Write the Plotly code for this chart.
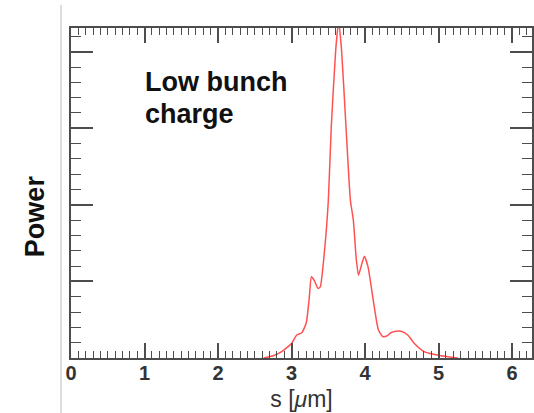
import plotly.graph_objects as go

# Data
s_um = [2.62, 2.75, 2.86, 3.0, 3.07, 3.14, 3.2, 3.24, 3.27, 3.31, 3.36, 3.39,
        3.45, 3.5, 3.54, 3.6, 3.64, 3.68, 3.74, 3.8, 3.84, 3.88, 3.91, 3.95,
        3.99, 4.04, 4.11, 4.18, 4.24, 4.3, 4.35, 4.42, 4.49, 4.58, 4.67, 4.81,
        5.03, 5.26]
power = [0.0, 0.03, 0.08, 0.19, 0.30, 0.33, 0.46, 0.78, 1.06, 1.01, 0.91, 0.93,
         1.42, 2.06, 3.02, 4.02, 4.40, 4.02, 3.02, 2.06, 1.80, 1.29, 1.08, 1.21,
         1.33, 1.19, 0.76, 0.37, 0.28, 0.29, 0.33, 0.35, 0.35, 0.30, 0.19, 0.08,
         0.03, 0.0]
x_ticks = [0, 1, 2, 3, 4, 5, 6]
label_lines = ["Low bunch", "charge"]

AX = "#4d4d4d"
FONT = "Liberation Sans, Arial, sans-serif"

fig = go.Figure()
fig.add_trace(go.Scatter(
    x=s_um, y=power, mode="lines",
    line=dict(color="rgba(255,50,50,0.85)", width=1.5, shape="spline", smoothing=0.5),
    hoverinfo="skip", showlegend=False,
))

fig.update_layout(
    width=534, height=413,
    margin=dict(l=71, r=0, t=28, b=55),
    paper_bgcolor="white", plot_bgcolor="white",
    font=dict(family=FONT, color="#222222"),
    xaxis=dict(
        range=[0, 6.27], tickmode="array", tickvals=x_ticks,
        ticktext=["<b>%d</b>" % v for v in x_ticks],
        ticks="inside", ticklen=15, tickwidth=1.5, tickcolor=AX,
        minor=dict(dtick=0.1, ticks="inside", ticklen=7, tickwidth=1.2, tickcolor=AX),
        showline=True, linecolor=AX, linewidth=2, mirror="ticks",
        showgrid=False, zeroline=False,
        tickfont=dict(size=20, color="#333333"), ticklabelstandoff=-4,
        title=dict(text="s [<i>\u03bc</i>m]", font=dict(size=23, color="#333333"), standoff=8),
    ),
    yaxis=dict(
        range=[0, 4.31], dtick=1, tick0=0,
        ticks="inside", ticklen=22, tickwidth=1.5, tickcolor=AX,
        minor=dict(dtick=0.2, ticks="inside", ticklen=10, tickwidth=1.2, tickcolor=AX),
        showline=True, linecolor=AX, linewidth=2, mirror="ticks",
        showgrid=False, zeroline=False, showticklabels=False,
    ),
    annotations=[
        dict(text="<b>Power</b>", x=-0.078, y=0.43, xref="paper", yref="paper",
             xanchor="center", yanchor="middle", textangle=-90, showarrow=False,
             font=dict(size=27, color="#111111", family=FONT)),
        dict(text="<b>%s</b>" % label_lines[0], x=0.973, y=3.6, xref="x", yref="y",
             xanchor="left", yanchor="middle", showarrow=False,
             font=dict(size=27, color="#111111", family=FONT)),
        dict(text="<b>%s</b>" % label_lines[1], x=0.973, y=3.19, xref="x", yref="y",
             xanchor="left", yanchor="middle", showarrow=False,
             font=dict(size=27, color="#111111", family=FONT)),
    ],
    shapes=[
        dict(type="line", xref="paper", yref="paper",
             x0=-0.0216, x1=-0.0216, y0=-0.167, y1=1.07,
             line=dict(color="#bbbbbb", width=1)),
    ],
)

fig.write_html("out.html")
